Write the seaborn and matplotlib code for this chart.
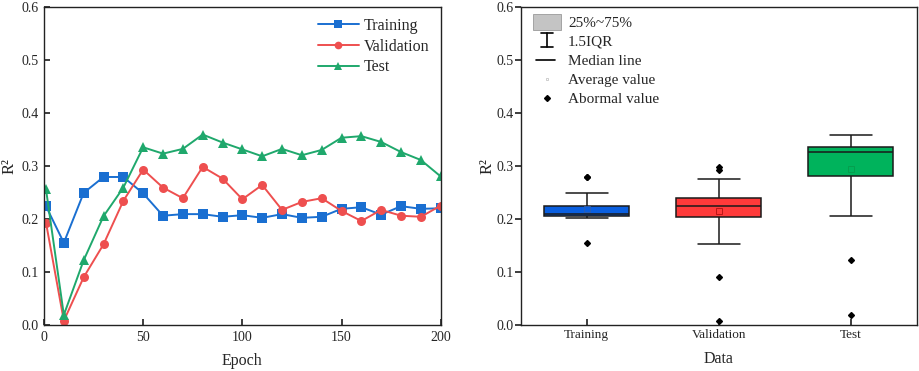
import numpy as np
import pandas as pd
import matplotlib
matplotlib.use("Agg")
import matplotlib.pyplot as plt
import seaborn as sns
from matplotlib.patches import Patch, Rectangle
from matplotlib.lines import Line2D
from matplotlib.legend_handler import HandlerBase

epochs = [1, 10, 20, 30, 40, 50, 60, 70, 80, 90, 100, 110, 120, 130, 140, 150, 160, 170, 180, 190, 200]
training = [0.224, 0.155, 0.249, 0.279, 0.279, 0.248, 0.206, 0.209, 0.209, 0.204, 0.207,
            0.202, 0.209, 0.202, 0.204, 0.219, 0.222, 0.208, 0.224, 0.219, 0.220]
validation = [0.193, 0.008, 0.090, 0.152, 0.234, 0.293, 0.259, 0.239, 0.298, 0.276, 0.237,
              0.264, 0.217, 0.232, 0.239, 0.215, 0.196, 0.217, 0.206, 0.204, 0.225]
test = [0.256, 0.019, 0.122, 0.205, 0.259, 0.335, 0.323, 0.332, 0.359, 0.344, 0.331,
        0.318, 0.332, 0.320, 0.330, 0.353, 0.356, 0.345, 0.326, 0.311, 0.280]
series_names = ["Training", "Validation", "Test"]
line_colors = {"Training": "#1a6fd1", "Validation": "#ee4f4f", "Test": "#1fa86c"}
box_colors = {"Training": "#0a5fe0", "Validation": "#ff3a3a", "Test": "#00b35c"}
mean_colors = ["#2f5fb0", "#b01010", "#079a4c"]
markers = {"Training": "s", "Validation": "o", "Test": "^"}
legend_labels = ["25%~75%", "1.5IQR", "Median line", "Average value", "Abormal value"]

sns.set_theme(style="white")
plt.rcParams["font.family"] = ["Liberation Serif", "DejaVu Serif"]
plt.rcParams["axes.edgecolor"] = "#222222"

rows = []
for name, vals in zip(series_names, [training, validation, test]):
    for e, v in zip(epochs, vals):
        rows.append({"Epoch": e, "R2": v, "Data": name})
df = pd.DataFrame(rows)

fig = plt.figure(figsize=(9.2, 3.71), dpi=100)
ax1 = fig.add_axes([44 / 920, 1 - 325 / 371, (440.7 - 44) / 920, (325 - 6.7) / 371])
ax2 = fig.add_axes([520.7 / 920, 1 - 325 / 371, (916.7 - 520.7) / 920, (325 - 6.7) / 371])

yt = np.arange(0, 0.61, 0.1)

# Left: line chart
sns.lineplot(data=df, x="Epoch", y="R2", hue="Data", style="Data", markers=markers,
             dashes=False, palette=line_colors, ax=ax1, markersize=6.5, linewidth=1.4,
             markeredgewidth=0)
ax1.set_xlim(0, 200)
ax1.set_ylim(0, 0.6)
ax1.set_xticks([0, 50, 100, 150, 200])
ax1.set_yticks(yt)
ax1.set_yticklabels([f"{t:.1f}" for t in yt])
ax1.set_xlabel("Epoch", fontsize=11.5, labelpad=7)
ax1.set_ylabel("R²", fontsize=12, labelpad=3)
ax1.tick_params(axis="both", direction="in", length=4, labelsize=10, pad=4, left=True, bottom=True)
ax1.legend(loc="upper right", frameon=False, fontsize=11.5, handlelength=2.6,
           handletextpad=0.3, labelspacing=0.3, borderaxespad=0.3, markerscale=0.85)
for s in ax1.spines.values():
    s.set_visible(True)
    s.set_linewidth(1.0)

# Right: boxplot
sns.boxplot(data=df, x="Data", y="R2", hue="Data", order=series_names, palette=box_colors,
            saturation=1, width=0.64, whis=1.5, linecolor="#1a1a1a", linewidth=1.1,
            legend=False, showmeans=True,
            meanprops=dict(marker="s", markersize=4, markerfacecolor="none",
                           markeredgecolor="#7a1010", markeredgewidth=0.6),
            flierprops=dict(marker="D", markersize=3, markerfacecolor="black",
                            markeredgecolor="black"),
            ax=ax2)
for ln in ax2.lines:
    if ln.get_marker() == "s":
        xi = int(round(np.mean(ln.get_xdata())))
        ln.set_markeredgecolor(mean_colors[xi])

ax2.set_xlim(-0.5, 2.5)
ax2.set_ylim(0, 0.6)
ax2.set_yticks(yt)
ax2.set_yticklabels([f"{t:.1f}" for t in yt])
ax2.set_xlabel("Data", fontsize=11.5, labelpad=7)
ax2.set_ylabel("R²", fontsize=12, labelpad=1)
ax2.tick_params(axis="x", direction="in", length=4, labelsize=9.5, pad=3, bottom=True)
ax2.tick_params(axis="y", direction="out", length=4, labelsize=10, pad=1, left=True)
for s in ax2.spines.values():
    s.set_visible(True)
    s.set_linewidth(1.0)


class IBeamHandler(HandlerBase):
    def create_artists(self, legend, orig_handle, xdescent, ydescent, width, height, fontsize, trans):
        cx = width / 2 - xdescent
        top = height * 1.15
        bot = -height * 0.15
        cap = width * 0.2
        l1 = Line2D([cx, cx], [bot, top], color="black", lw=1.2, transform=trans)
        l2 = Line2D([cx - cap, cx + cap], [top, top], color="black", lw=1.2, transform=trans)
        l3 = Line2D([cx - cap, cx + cap], [bot, bot], color="black", lw=1.2, transform=trans)
        return [l1, l2, l3]


class BigPatchHandler(HandlerBase):
    def create_artists(self, legend, orig_handle, xdescent, ydescent, width, height, fontsize, trans):
        r = Rectangle((-xdescent, -height * 0.3), width, height * 1.5,
                      facecolor="#c4c4c4", edgecolor="#9a9a9a", linewidth=0.6, transform=trans)
        return [r]


class ShortLineHandler(HandlerBase):
    def create_artists(self, legend, orig_handle, xdescent, ydescent, width, height, fontsize, trans):
        y = height / 2 - ydescent
        l = Line2D([-xdescent + width * 0.1, -xdescent + width * 0.8], [y, y],
                   color="black", lw=1.2, transform=trans)
        return [l]


handles = [
    Patch(facecolor="#c4c4c4", edgecolor="#9a9a9a", linewidth=0.6),
    Line2D([0], [0], color="black", linewidth=0),
    Line2D([0], [0], color="black", linewidth=1.2),
    Line2D([0], [0], color="#bbbbbb", marker="s", markersize=2, linewidth=0,
           markerfacecolor="none", markeredgewidth=0.5),
    Line2D([0], [0], color="black", marker="D", markersize=3, linewidth=0),
]

ax2.legend(handles, legend_labels, loc="upper left", bbox_to_anchor=(0.0192, 0.9855),
           frameon=False, fontsize=11,
           handlelength=1.85, handletextpad=0.45, labelspacing=0.36, borderaxespad=0,
           borderpad=0.3,
           handler_map={handles[0]: BigPatchHandler(), handles[1]: IBeamHandler(),
                        handles[2]: ShortLineHandler()})

fig.savefig("out.png", dpi=100)
